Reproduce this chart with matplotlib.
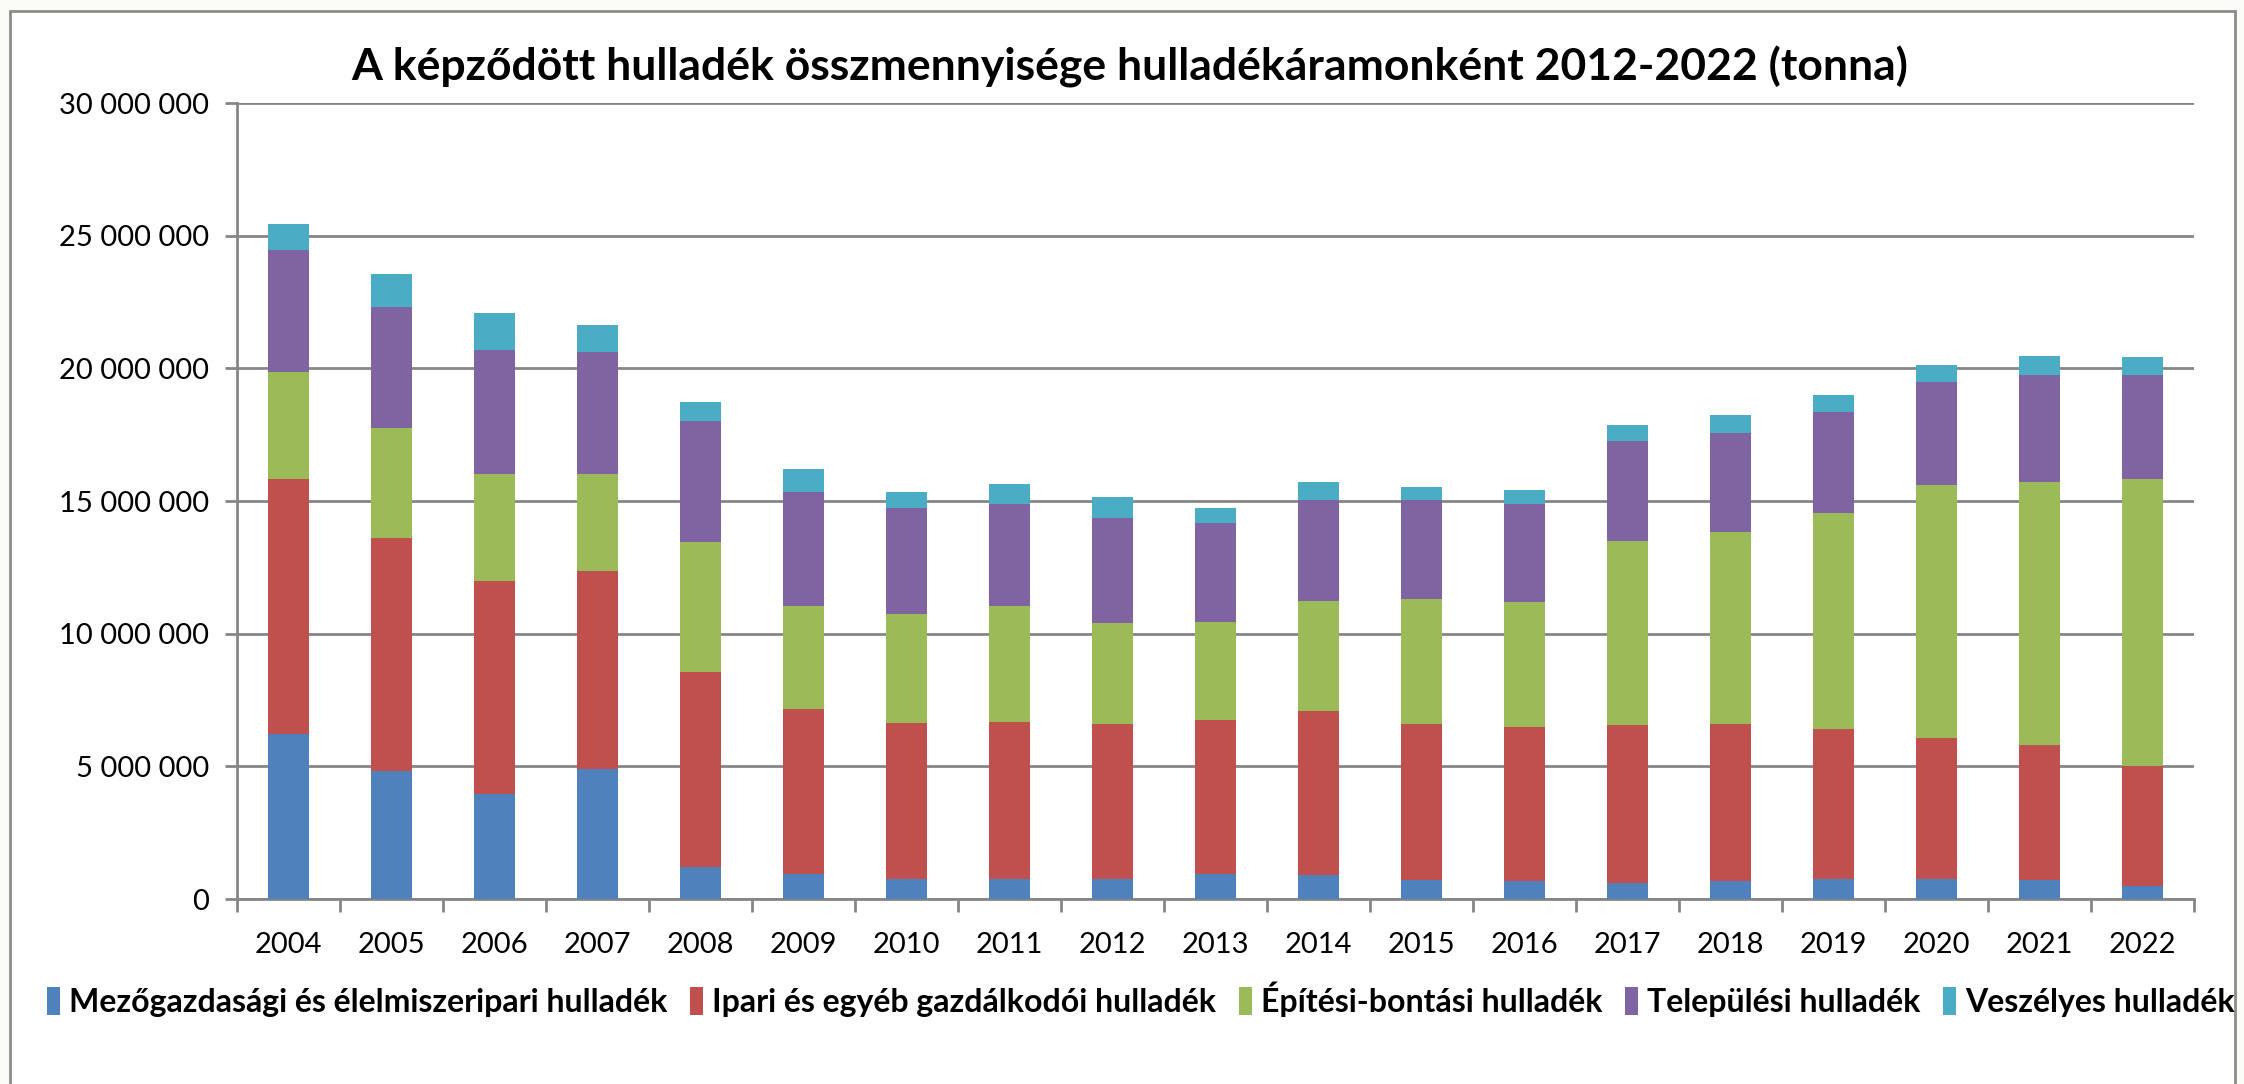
import numpy as np
import matplotlib.pyplot as plt
from matplotlib.patches import Rectangle
from matplotlib.ticker import FuncFormatter

years = ['2004', '2005', '2006', '2007', '2008', '2009', '2010', '2011', '2012', '2013',
         '2014', '2015', '2016', '2017', '2018', '2019', '2020', '2021', '2022']

# cumulative tops (million t), turned into layers below
top_agri = [6.23, 4.82, 3.96, 4.89, 1.21, 0.96, 0.77, 0.77, 0.77, 0.95,
            0.91, 0.73, 0.66, 0.59, 0.66, 0.77, 0.77, 0.73, 0.48]
top_ind = [15.83, 13.60, 11.99, 12.35, 8.55, 7.16, 6.62, 6.66, 6.61, 6.73,
           7.09, 6.61, 6.48, 6.55, 6.61, 6.41, 6.05, 5.80, 5.00]
top_constr = [19.88, 17.74, 16.03, 16.03, 13.46, 11.05, 10.76, 11.05, 10.39, 10.45,
              11.25, 11.30, 11.18, 13.50, 13.82, 14.55, 15.59, 15.70, 15.82]
top_munic = [24.47, 22.33, 20.70, 20.63, 18.01, 15.35, 14.74, 14.87, 14.36, 14.18,
             15.05, 15.05, 14.89, 17.25, 17.55, 18.34, 19.50, 19.75, 19.75]
top_haz = [25.45, 23.56, 22.08, 21.65, 18.72, 16.19, 15.35, 15.65, 15.14, 14.73,
           15.70, 15.52, 15.43, 17.86, 18.23, 19.00, 20.14, 20.48, 20.41]

labels = ['Mezőgazdasági és élelmiszeripari hulladék',
          'Ipari és egyéb gazdálkodói hulladék',
          'Építési-bontási hulladék',
          'Települési hulladék',
          'Veszélyes hulladék']
colors = ['#4F81BD', '#C0504D', '#9BBB59', '#8064A2', '#4BACC6']

plt.rcParams['font.family'] = ['Lato', 'DejaVu Sans']

tops = np.array([top_agri, top_ind, top_constr, top_munic, top_haz]) * 1e6
layers = np.diff(np.vstack([np.zeros(len(years)), tops]), axis=0)

fig = plt.figure(figsize=(22.44, 10.84), dpi=100)
fig.patch.set_facecolor('#FCFCF7')
# white chart area with grey frame
fig.patches.append(Rectangle((10 / 2244, -0.05), 2225 / 2244, 1.05 - 11 / 1084,
                             transform=fig.transFigure, facecolor='white',
                             edgecolor='#8C8C8C', linewidth=2, zorder=-5))

ax = fig.add_axes([237 / 2244, 1 - 899 / 1084, 1957 / 2244, 796 / 1084])
ax.set_zorder(2)
ax.patch.set_alpha(0)
x = np.arange(len(years))
bottom = np.zeros(len(years))
handles = []
for i in range(5):
    b = ax.bar(x, layers[i], 0.39, bottom=bottom, color=colors[i], label=labels[i], zorder=3)
    handles.append(b)
    bottom += layers[i]

ax.set_xlim(-0.5, len(years) - 0.5)
ax.set_ylim(0, 30e6)
ax.set_yticks(np.arange(0, 30e6 + 1, 5e6))
ax.yaxis.set_major_formatter(FuncFormatter(lambda v, p: f'{int(v):,}'.replace(',', ' ')))
ax.grid(axis='y', color='#868686', linewidth=2, zorder=0)
ax.set_axisbelow(True)
ax.set_xticks(x)
ax.set_xticklabels(years)
ax.set_xticks(np.arange(-0.5, len(years)), minor=True)
ax.tick_params(axis='x', which='major', length=0, labelsize=21, pad=24)
ax.tick_params(axis='x', which='minor', length=9, width=2, color='#868686')
ax.tick_params(axis='y', length=9, width=2, color='#868686', labelsize=21, pad=11)
for s in ['top', 'right']:
    ax.spines[s].set_visible(False)
for s in ['left', 'bottom']:
    ax.spines[s].set_color('#868686')
    ax.spines[s].set_linewidth(2)

fig.text(1130 / 2244, 1 - 67 / 1084, 'A képződött hulladék összmennyisége hulladékáramonként 2012-2022 (tonna)',
         ha='center', va='center', fontsize=32, fontweight='bold')

fig.legend(handles=handles, labels=labels, loc='center', ncol=5,
           bbox_to_anchor=(1141 / 2244, 1 - 999 / 1084), frameon=False,
           prop={'size': 23, 'weight': 'bold'}, handlelength=0.4, handleheight=1.0,
           handletextpad=0.3, columnspacing=0.7)

fig.savefig('out.png', dpi=100, facecolor=fig.get_facecolor())
